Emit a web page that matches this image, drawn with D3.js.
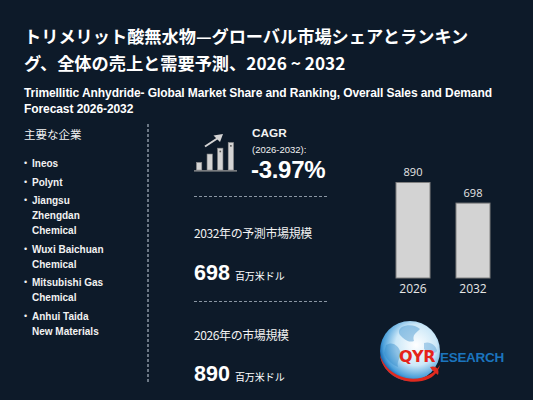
<!DOCTYPE html>
<html>
<head>
<meta charset="utf-8">
<script src="https://cdn.jsdelivr.net/npm/d3@7"></script>
<style>
	html, body { margin: 0; padding: 0; background: #0d1a29; }
	svg { display: block; }
</style>
</head>
<body>
<div id="chart"></div>
<script>
// data
const titleLines = ['トリメリット酸無水物—グローバル市場シェアとランキン', 'グ、全体の売上と需要予測、2026 ~ 2032']
const subtitleLines = ['Trimellitic Anhydride- Global Market Share and Ranking, Overall Sales and Demand', 'Forecast 2026-2032']
const companies = [
	['Ineos'],
	['Polynt'],
	['Jiangsu', 'Zhengdan', 'Chemical'],
	['Wuxi Baichuan', 'Chemical'],
	['Mitsubishi Gas', 'Chemical'],
	['Anhui Taida', 'New Materials']
]
const years = ['2026', '2032']
const marketValues = [890, 698]
const cagrText = '-3.97%'
const cagrPeriod = '(2026-2032):'
const unitLabel = '百万米ドル'
const iconBars = [0.27, 0.57, 0.78, 0.98]

const W = 533, H = 400
const jp = '"Liberation Sans", Arial, "Noto Sans CJK JP", sans-serif'
const txt = '#f2f2f2'

const svg = d3.select('#chart').append('svg')
	.attr('width', W)
	.attr('height', H)

svg.append('rect')
	.attr('width', W)
	.attr('height', H)
	.attr('fill', '#0d1a29')

// ---------- title ----------
svg.selectAll('.title')
	.data(titleLines)
	.enter()
	.append('text')
	.attr('class', 'title')
	.attr('x', 24)
	.attr('y', (d, i) => 43 + i * 27)
	.attr('fill', '#ffffff')
	.attr('font-size', 17.2)
	.attr('font-weight', 'bold')
	.style('font-family', '"Noto Sans CJK JP", sans-serif')
	.text(d => d)

svg.selectAll('.subtitle')
	.data(subtitleLines)
	.enter()
	.append('text')
	.attr('class', 'subtitle')
	.attr('x', 24)
	.attr('y', (d, i) => 97 + i * 16)
	.attr('fill', '#ffffff')
	.attr('font-size', 12)
	.attr('font-weight', 'bold')
	.attr('letter-spacing', -0.08)
	.style('font-family', jp)
	.text(d => d)

// ---------- left column: companies ----------
svg.append('text')
	.attr('x', 24)
	.attr('y', 139)
	.attr('fill', txt)
	.attr('font-size', 11.5)
	.style('font-family', '"Noto Sans CJK JP", sans-serif')
	.text('主要な企業')

let yy = 167
companies.forEach(lines => {
	svg.append('text')
		.attr('x', 24)
		.attr('y', yy - 1)
		.attr('fill', txt)
		.attr('font-size', 9)
		.style('font-family', jp)
		.text('•')
	lines.forEach((l, j) => {
		svg.append('text')
			.attr('x', 32)
			.attr('y', yy + j * 15)
			.attr('fill', txt)
			.attr('font-size', 10)
			.attr('font-weight', 'bold')
			.style('font-family', jp)
			.text(l)
	})
	yy += lines.length * 15 + 3.5
})

svg.append('line')
	.attr('x1', 148).attr('x2', 148)
	.attr('y1', 124).attr('y2', 384)
	.attr('stroke', '#8a96a3')
	.attr('stroke-width', 1.5)
	.attr('stroke-dasharray', '3,2')

// ---------- CAGR block ----------
const icon = svg.append('g')
const iconX = d3.scaleBand().domain(d3.range(iconBars.length)).range([196.5, 233.5]).paddingInner(0.5)
const iconY = d3.scaleLinear().domain([0, 1]).range([170, 142])
icon.selectAll('rect')
	.data(iconBars)
	.enter()
	.append('rect')
	.attr('x', (d, i) => iconX(i))
	.attr('y', d => iconY(d))
	.attr('width', iconX.bandwidth())
	.attr('height', d => iconY(0) - iconY(d))
	.attr('fill', '#d4d4d4')
	.attr('stroke', '#8f8f8f')
	.attr('stroke-width', 0.6)
icon.selectAll('.dot')
	.data(iconBars.slice(2))
	.enter()
	.append('rect')
	.attr('x', (d, i) => iconX(i + 2) + iconX.bandwidth() / 2 - 0.8)
	.attr('y', d => iconY(d) + 2.5)
	.attr('width', 1.6).attr('height', 1.6)
	.attr('fill', '#555')
icon.append('line')
	.attr('x1', 194).attr('x2', 237)
	.attr('y1', 170.8).attr('y2', 170.8)
	.attr('stroke', '#9a9a9a').attr('stroke-width', 1.2)
icon.append('line')
	.attr('x1', 205).attr('y1', 146.5)
	.attr('x2', 218).attr('y2', 138)
	.attr('stroke', '#d4d4d4').attr('stroke-width', 2)
icon.append('path')
	.attr('d', 'M213.5,135.5 L223,134 L220,142 Z')
	.attr('fill', '#d4d4d4')

svg.append('text')
	.attr('x', 252).attr('y', 137)
	.attr('fill', txt)
	.attr('font-size', 11.8)
	.attr('font-weight', 'bold')
	.style('font-family', jp)
	.text('CAGR')
svg.append('text')
	.attr('x', 252).attr('y', 152.5)
	.attr('fill', txt)
	.attr('font-size', 9.5)
	.style('font-family', jp)
	.text(cagrPeriod)
svg.append('text')
	.attr('x', 251).attr('y', 177.5)
	.attr('fill', '#ffffff')
	.attr('font-size', 24)
	.attr('font-weight', 'bold')
	.attr('letter-spacing', -0.3)
	.style('font-family', jp)
	.text(cagrText)

// ---------- market size blocks ----------
const blocks = [
	{ dash: 196.5, label: years[1] + '年の予測市場規模', value: marketValues[1], ly: 238, vy: 279.5 },
	{ dash: 301.5, label: years[0] + '年の市場規模', value: marketValues[0], ly: 340, vy: 381 }
]
blocks.forEach(b => {
	svg.append('line')
		.attr('x1', 194).attr('x2', 329)
		.attr('y1', b.dash).attr('y2', b.dash)
		.attr('stroke', '#8a96a3')
		.attr('stroke-width', 1)
		.attr('stroke-dasharray', '3,2')
	svg.append('text')
		.attr('x', 194).attr('y', b.ly)
		.attr('fill', txt)
		.attr('font-size', 12)
		.attr('letter-spacing', -0.4)
		.style('font-family', '"Noto Sans CJK JP", sans-serif')
		.text(b.label)
	const t = svg.append('text')
		.attr('x', 194).attr('y', b.vy)
		.attr('fill', '#ffffff')
		.style('font-family', jp)
	t.append('tspan')
		.attr('font-size', 21.5)
		.attr('font-weight', 'bold')
		.text(b.value)
	t.append('tspan')
		.attr('dx', 5)
		.attr('font-size', 10)
		.style('font-family', '"Noto Sans CJK JP", sans-serif')
		.text(unitLabel)
})

// ---------- bar chart ----------
const x = d3.scaleBand()
	.domain(years)
	.range([381, 505])
	.paddingInner(0.433)
	.paddingOuter(0.25)
const y = d3.scaleLinear()
	.domain([0, d3.max(marketValues)])
	.range([278, 182.5])

const bars = svg.append('g')
bars.selectAll('rect')
	.data(years)
	.enter()
	.append('rect')
	.attr('x', d => x(d))
	.attr('y', (d, i) => y(marketValues[i]))
	.attr('width', x.bandwidth())
	.attr('height', (d, i) => y(0) - y(marketValues[i]))
	.attr('fill', '#d3d3d3')
	.attr('stroke', '#7f7f7f')
	.attr('stroke-width', 1)
bars.selectAll('.val')
	.data(years)
	.enter()
	.append('text')
	.attr('class', 'val')
	.attr('x', d => x(d) + x.bandwidth() / 2)
	.attr('y', (d, i) => y(marketValues[i]) - 6.5)
	.attr('text-anchor', 'middle')
	.attr('fill', '#e6e6e6')
	.attr('font-size', 11)
	.style('font-family', '"Open Sans", sans-serif')
	.text((d, i) => marketValues[i])
bars.selectAll('.yr')
	.data(years)
	.enter()
	.append('text')
	.attr('class', 'yr')
	.attr('x', d => x(d) + x.bandwidth() / 2)
	.attr('y', y(0) + 15)
	.attr('text-anchor', 'middle')
	.attr('fill', '#e6e6e6')
	.attr('font-size', 12)
	.style('font-family', '"Open Sans", sans-serif')
	.text(d => d)

// ---------- logo ----------
const defs = svg.append('defs')
const grad = defs.append('radialGradient')
	.attr('id', 'globe')
	.attr('cx', '60%').attr('cy', '40%').attr('r', '62%')
grad.append('stop').attr('offset', '0%').attr('stop-color', '#ffffff')
grad.append('stop').attr('offset', '55%').attr('stop-color', '#cce8f8')
grad.append('stop').attr('offset', '88%').attr('stop-color', '#4a9fda')
grad.append('stop').attr('offset', '100%').attr('stop-color', '#1667b0')

const logo = svg.append('g').attr('transform', 'translate(410,351)')
logo.append('circle')
	.attr('r', 30)
	.attr('fill', 'url(#globe)')
// rough continents
logo.append('path')
	.attr('d', 'M-8,-24 C-2,-27 6,-26 10,-22 C6,-18 2,-16 4,-10 C-2,-8 -6,-12 -10,-16 C-12,-19 -11,-22 -8,-24 Z')
	.attr('fill', '#2e86c8').attr('opacity', 0.4)
logo.append('path')
	.attr('d', 'M-24,-6 C-18,-10 -12,-6 -10,0 C-8,6 -14,10 -12,16 C-18,14 -24,8 -26,2 Z')
	.attr('fill', '#2e86c8').attr('opacity', 0.4)
logo.append('path')
	.attr('d', 'M14,-8 C20,-10 26,-6 27,0 C24,4 18,2 14,-2 Z')
	.attr('fill', '#2e86c8').attr('opacity', 0.35)
// red swoosh
logo.append('path')
	.attr('d', 'M-30,4 C-28,22 -8,34 12,30 C22,28 28,22 30,14 C24,24 10,30 -4,27 C-18,24 -27,14 -30,4 Z')
	.attr('fill', '#e02a1f')
logo.append('path')
	.attr('d', 'M20,16 C26,14 30,18 28,24 C26,22 22,20 20,16 Z')
	.attr('fill', '#e02a1f')

svg.append('text')
	.attr('x', 399).attr('y', 362)
	.attr('fill', '#e5231b')
	.attr('font-size', 16)
	.attr('font-weight', 'bold')
	.attr('letter-spacing', -0.5)
	.style('font-family', '"DejaVu Sans", sans-serif')
	.text('QYR')
svg.append('text')
	.attr('x', 440).attr('y', 361.5)
	.attr('fill', '#1b74bd')
	.attr('font-size', 13.5)
	.attr('font-weight', 'bold')
	.attr('letter-spacing', -0.3)
	.style('font-family', '"Liberation Sans", sans-serif')
	.text('ESEARCH')
</script>
</body>
</html>
